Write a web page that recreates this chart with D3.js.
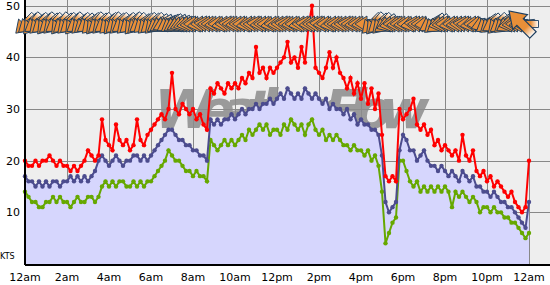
<!DOCTYPE html>
<html>
<head>
<meta charset="utf-8">
<script src="https://cdn.jsdelivr.net/npm/d3@7"></script>
<style>
body { margin: 0; background: #fff; }
svg { display: block; font-family: "DejaVu Sans", Verdana, sans-serif; }
</style>
</head>
<body>
<script>
// wind samples, every 10 minutes from 12am to 12am (145 points), knots
let gust = [
  20,19,19,20,19,20, 20,21,20,19,20,19, 19,18,19,18,19,20, 22,21,20,21,28,24,
  23,22,27,24,23,24, 22,23,28,24,23,25, 26,27,28,29,28,30, 37,30,29,31,30,29,
  30,28,29,27,26,34, 33,35,34,33,35,34, 35,34,36,35,37,36, 42,37,38,36,38,37,
  38,39,40,43,39,40, 38,42,39,46,50,38, 37,36,38,41,38,40, 37,36,34,36,33,35,
  32,35,31,34,30,33, 25,17,16,17,16,30, 28,29,30,32,27,26, 27,25,26,23,24,22,
  23,22,21,22,20,25, 21,20,22,18,17,18, 16,17,15,16,15,14, 13,14,12,11,10,11, 20
];
let avg = [
  17,16,16,15,16,15, 16,15,16,16,15,16, 16,17,16,17,16,17, 16,17,18,20,21,20,
  19,20,21,20,19,20, 20,21,21,20,21,20, 21,22,23,24,25,26, 26,25,24,24,23,23,
  22,22,21,21,20,28, 27,28,27,28,28,29, 28,29,30,29,30,30, 31,30,31,31,32,31,
  32,33,32,34,33,32, 33,32,34,33,32,33, 32,31,32,30,31,30, 30,29,30,28,29,27,
  28,27,27,26,26,25, 21,12,10,11,12,22, 25,24,22,22,20,21, 22,20,19,19,18,19,
  18,17,18,17,16,18, 17,16,17,15,15,14, 14,13,14,13,12,12, 11,11,10,9,8,7, 12
];
let lull = [
  14,13,12,12,11,11, 12,12,13,12,13,12, 12,11,12,13,12,12, 13,13,12,13,15,16,
  15,16,15,16,16,15, 15,16,15,16,15,16, 16,17,18,19,20,22, 21,20,20,19,18,18,
  17,18,17,17,16,24, 23,22,23,24,23,24, 23,24,25,24,26,25, 26,27,26,27,25,26,
  26,25,27,26,28,27, 26,27,25,27,28,26, 25,26,24,25,24,25, 24,23,23,22,23,22,
  22,21,22,20,21,19, 14,4,6,8,9,20, 20,18,16,15,16,14, 15,14,15,14,15,14,
  15,14,11,14,13,14, 13,12,13,12,10,11, 11,10,11,10,10,9, 9,8,8,7,6,5, 6
];
// arrow heading in degrees (screen, 0 = pointing up, 90 = right, 180 = down)
let dir = [
  225,230,220,235,225,230, 220,230,225,235,220,230, 225,230,220,235,225,230, 235,225,220,230,225,235,
  225,220,230,225,235,225, 230,220,225,235,230,225, 230,225,235,240,245,240, 235,240,245,250,255,260,
  265,270,260,270,275,270, 270,265,270,260,270,275, 270,265,270,270,260,270, 270,275,265,270,270,260,
  270,265,270,275,270,265, 270,260,270,275,265,270, 270,275,265,270,260,270, 270,265,270,275,270,265,
  270,265,270,225,220,230, 225,235,250,260,270,265, 270,265,270,260,275,270, 270,265,240,230,235,260,
  265,270,260,270,265,270, 275,270,260,270,265,250, 235,230,240,225,235,230, 240,260,265,270,265,270, 315
];
let yTicks = [10, 20, 30, 40, 50];
let xTickLabels = ["12am","2am","4am","6am","8am","10am","12pm","2pm","4pm","6pm","8pm","10pm","12am"];

let width = 550, height = 285;
let plotLeft = 25, plotRight = 529, plotTop = 0, plotBottom = 264;

let svg = d3.select("body").append("svg")
  .attr("width", width)
  .attr("height", height);

let x = d3.scaleLinear().domain([0, 24]).range([plotLeft, plotRight]);
let y = d3.scaleLinear().domain([0, 51.1]).range([plotBottom, plotTop]);
let t = i => i / 6;

// plot background
svg.append("rect")
  .attr("x", plotLeft).attr("y", 0)
  .attr("width", width - plotLeft).attr("height", plotBottom)
  .attr("fill", "#eeeeee");

// grid
svg.selectAll(".hgrid").data(yTicks).enter().append("line")
  .attr("x1", plotLeft).attr("x2", width)
  .attr("y1", d => Math.round(y(d)) + 0.5).attr("y2", d => Math.round(y(d)) + 0.5)
  .attr("stroke", "#888").attr("stroke-width", 1);
svg.selectAll(".vgrid").data(d3.range(1, 13)).enter().append("line")
  .attr("x1", d => Math.round(x(d * 2)) + 0.5).attr("x2", d => Math.round(x(d * 2)) + 0.5)
  .attr("y1", 0).attr("y2", plotBottom)
  .attr("stroke", "#888").attr("stroke-width", 1);

// watermark
svg.append("text")
  .attr("x", 292).attr("y", 128)
  .attr("text-anchor", "middle")
  .attr("font-size", 54).attr("font-weight", "bold").attr("font-style", "italic")
  .attr("fill", "#8c8c8c").attr("opacity", 0.85)
  .attr("textLength", 275)
  .text("WeatherFlow");

// area under average
let area = d3.area()
  .x((d, i) => x(t(i)))
  .y0(plotBottom)
  .y1(d => y(d));
svg.append("path")
  .datum(avg)
  .attr("d", area)
  .attr("fill", "#d6d6fd");

let line = d3.line()
  .x((d, i) => x(t(i)))
  .y(d => y(d));

function series(data, color) {
  svg.append("path")
    .datum(data)
    .attr("d", line)
    .attr("fill", "none")
    .attr("stroke", color)
    .attr("stroke-width", 2);
  svg.append("g").selectAll("circle").data(data).enter().append("circle")
    .attr("cx", (d, i) => x(t(i)))
    .attr("cy", d => y(d))
    .attr("r", 2.2)
    .attr("fill", color);
}
series(lull, "#66a800");
series(avg, "#4c4c8e");
series(gust, "#ff0000");

// axes
svg.append("line")
  .attr("x1", plotLeft).attr("x2", plotLeft).attr("y1", 0).attr("y2", plotBottom + 1)
  .attr("stroke", "#000").attr("stroke-width", 2);
svg.append("line")
  .attr("x1", plotLeft).attr("x2", width).attr("y1", plotBottom + 1).attr("y2", plotBottom + 1)
  .attr("stroke", "#000").attr("stroke-width", 2);

// wind direction arrows, tail fades to white
let defs = svg.append("defs");
let grad = defs.append("linearGradient")
  .attr("id", "arrowFill")
  .attr("x1", 0).attr("y1", 0).attr("x2", 1).attr("y2", 0);
grad.append("stop").attr("offset", "0%").attr("stop-color", "#ffffff");
grad.append("stop").attr("offset", "30%").attr("stop-color", "#e98f38");
grad.append("stop").attr("offset", "100%").attr("stop-color", "#e98f38");

let arrowPath = "M-13,-3.5L1,-3.5L1,-8L13,0L1,8L1,3.5L-13,3.5Z";
svg.append("g").selectAll("path").data(dir).enter().append("path")
  .attr("d", arrowPath)
  .attr("transform", (d, i) => i === dir.length - 1
    ? `translate(${x(t(i)) - 8},23) rotate(${d - 90}) scale(1.3)`
    : `translate(${x(t(i))},24) rotate(${d - 90})`)
  .attr("fill", "url(#arrowFill)")
  .attr("stroke", "#1d3d5e")
  .attr("stroke-width", 0.9);

// tick labels
svg.selectAll(".ylab").data(yTicks).enter().append("text")
  .attr("x", 20).attr("y", d => y(d) + 4)
  .attr("text-anchor", "end")
  .attr("font-size", 11)
  .text(d => d);
svg.append("text")
  .attr("x", 0).attr("y", 259)
  .attr("font-size", 8)
  .text("KTS");
svg.selectAll(".xlab").data(xTickLabels).enter().append("text")
  .attr("x", (d, i) => x(i * 2))
  .attr("y", 281)
  .attr("text-anchor", "middle")
  .attr("font-size", 11)
  .text(d => d);
</script>
</body>
</html>
